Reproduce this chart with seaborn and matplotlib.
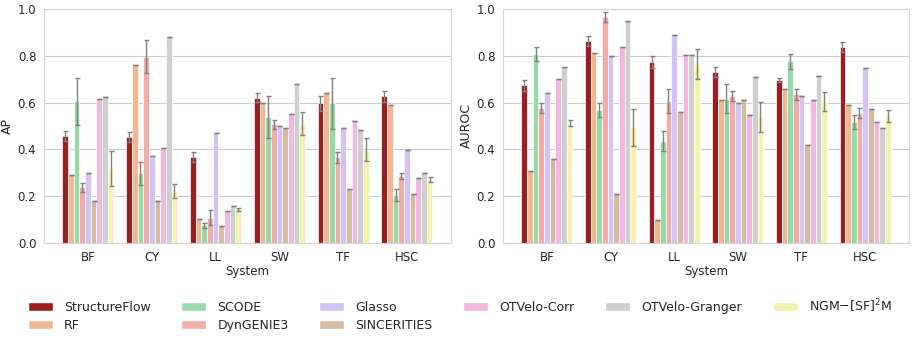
import numpy as np
import pandas as pd
import matplotlib
matplotlib.use('Agg')
import matplotlib.pyplot as plt
from matplotlib.patches import Patch
import seaborn as sns

systems = ['BF', 'CY', 'LL', 'SW', 'TF', 'HSC']
methods = ['StructureFlow', 'RF', 'SCODE', 'DynGENIE3', 'Glasso',
           'SINCERITIES', 'OTVelo-Corr', 'OTVelo-Granger', r'NGM$-$[SF]$^2$M']

# AP mean / std per method (one value per system)
ap_mean = {
    'StructureFlow':  [0.457, 0.453, 0.366, 0.620, 0.597, 0.627],
    'RF':             [0.289, 0.759, 0.101, 0.600, 0.640, 0.590],
    'SCODE':          [0.605, 0.298, 0.075, 0.537, 0.597, 0.204],
    'DynGENIE3':      [0.238, 0.796, 0.107, 0.507, 0.366, 0.285],
    'Glasso':         [0.299, 0.370, 0.470, 0.500, 0.490, 0.399],
    'SINCERITIES':    [0.181, 0.181, 0.071, 0.491, 0.229, 0.211],
    'OTVelo-Corr':    [0.617, 0.406, 0.138, 0.551, 0.520, 0.276],
    'OTVelo-Granger': [0.622, 0.882, 0.159, 0.681, 0.481, 0.298],
    r'NGM$-$[SF]$^2$M': [0.319, 0.222, 0.144, 0.510, 0.399, 0.272],
}
ap_std = {
    'StructureFlow':  [0.023, 0.020, 0.022, 0.019, 0.033, 0.023],
    'RF':             [0, 0, 0, 0, 0, 0],
    'SCODE':          [0.100, 0.050, 0.010, 0.090, 0.110, 0.025],
    'DynGENIE3':      [0.020, 0.070, 0.032, 0.020, 0.023, 0.013],
    'Glasso':         [0, 0, 0, 0, 0, 0],
    'SINCERITIES':    [0, 0, 0, 0, 0, 0],
    'OTVelo-Corr':    [0, 0, 0, 0, 0, 0],
    'OTVelo-Granger': [0, 0, 0, 0, 0, 0],
    r'NGM$-$[SF]$^2$M': [0.075, 0.028, 0.007, 0.050, 0.048, 0.011],
}

# AUROC mean / std
auroc_mean = {
    'StructureFlow':  [0.674, 0.863, 0.774, 0.732, 0.695, 0.836],
    'RF':             [0.309, 0.811, 0.100, 0.610, 0.660, 0.590],
    'SCODE':          [0.808, 0.568, 0.436, 0.617, 0.776, 0.517],
    'DynGENIE3':      [0.577, 0.967, 0.607, 0.627, 0.635, 0.556],
    'Glasso':         [0.640, 0.798, 0.889, 0.600, 0.630, 0.749],
    'SINCERITIES':    [0.359, 0.211, 0.558, 0.611, 0.419, 0.571],
    'OTVelo-Corr':    [0.702, 0.839, 0.805, 0.547, 0.610, 0.519],
    'OTVelo-Granger': [0.751, 0.950, 0.802, 0.711, 0.715, 0.491],
    r'NGM$-$[SF]$^2$M': [0.514, 0.494, 0.764, 0.538, 0.604, 0.543],
}
auroc_std = {
    'StructureFlow':  [0.023, 0.021, 0.027, 0.021, 0.009, 0.021],
    'RF':             [0, 0, 0, 0, 0, 0],
    'SCODE':          [0.030, 0.031, 0.043, 0.062, 0.032, 0.031],
    'DynGENIE3':      [0.020, 0.021, 0.051, 0.021, 0.024, 0.022],
    'Glasso':         [0, 0, 0, 0, 0, 0],
    'SINCERITIES':    [0, 0, 0, 0, 0, 0],
    'OTVelo-Corr':    [0, 0, 0, 0, 0, 0],
    'OTVelo-Granger': [0, 0, 0, 0, 0, 0],
    r'NGM$-$[SF]$^2$M': [0.013, 0.080, 0.063, 0.064, 0.041, 0.025],
}

sns.set_style('whitegrid')
plt.rcParams['font.family'] = ['DejaVu Sans']

pastel = sns.color_palette('pastel')
palette = ['#b00909'] + [pastel[i] for i in range(1, 9)]


def long_df(mean, metric):
    rows = []
    for m in methods:
        for s, v in zip(systems, mean[m]):
            rows.append({'System': s, 'Method': m, metric: v})
    return pd.DataFrame(rows)


fig = plt.figure(figsize=(9.14, 3.42), dpi=100)
ax1 = fig.add_axes([0.0481, 0.2895, 0.4453, 0.6842])
ax2 = fig.add_axes([0.5503, 0.2895, 0.4442, 0.6842])

for ax, mean, std, metric in [(ax1, ap_mean, ap_std, 'AP'),
                              (ax2, auroc_mean, auroc_std, 'AUROC')]:
    df = long_df(mean, metric)
    sns.barplot(data=df, x='System', y=metric, hue='Method', order=systems,
                hue_order=methods, palette=palette, errorbar=None,
                width=0.8, gap=0, saturation=0.75, legend=False,
                edgecolor='white', linewidth=0.5, ax=ax)
    for m, cont in zip(methods, ax.containers):
        xs = [b.get_x() + b.get_width() / 2 for b in cont]
        ys = [b.get_height() for b in cont]
        ax.errorbar(xs, ys, yerr=std[m], fmt='none', ecolor='#808080',
                    elinewidth=1.0, capsize=1.8, capthick=1.0, zorder=5)
    ax.set_ylim(0, 1.0)
    ax.set_xlim(-0.69, 5.69)
    ax.set_yticks([0, 0.2, 0.4, 0.6, 0.8, 1.0])
    ax.tick_params(axis='both', labelsize=8.5, pad=2)
    ax.set_xlabel('System', fontsize=8.5, labelpad=1)
    ax.set_ylabel(metric, fontsize=9, labelpad=3)
    ax.xaxis.grid(False)
    for sp in ax.spines.values():
        sp.set_color('#d5d5d5')

handles = [Patch(facecolor=c.patches[0].get_facecolor(), label=m)
           for m, c in zip(methods, ax1.containers)]
fig.legend(handles=handles, loc='center', bbox_to_anchor=(0.503, 0.08),
           ncol=6, frameon=False, fontsize=9, handlelength=2.0,
           handleheight=0.7, handletextpad=0.9, columnspacing=2.45,
           labelspacing=0.4)

fig.savefig('out.png', dpi=100)
